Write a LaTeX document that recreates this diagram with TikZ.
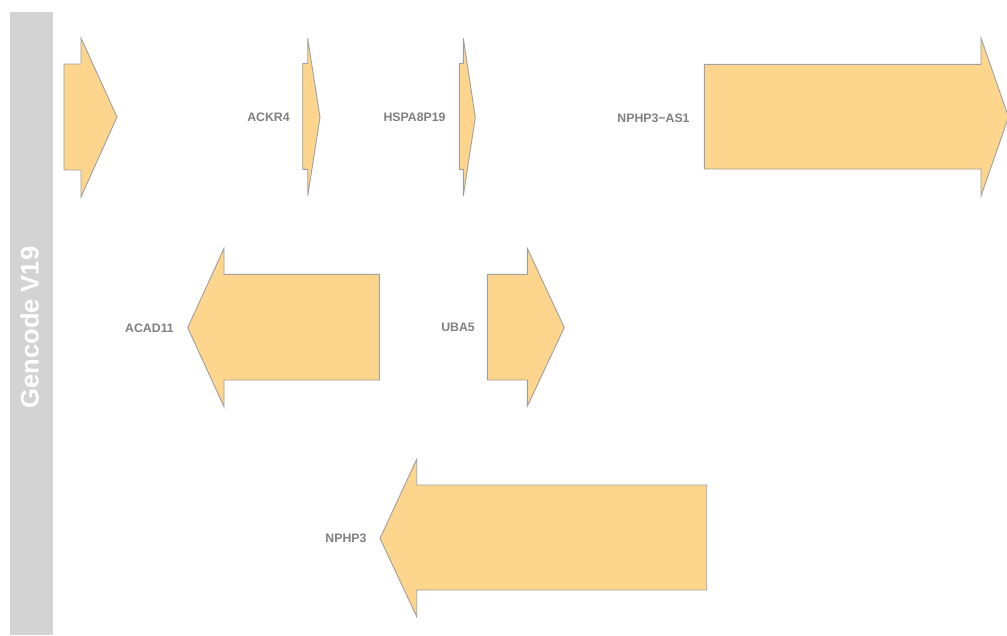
\documentclass[tikz,border=0pt]{standalone}
\usepackage{fontspec}
\setmainfont{Liberation Sans}
\definecolor{genefill}{HTML}{FDD58C}
\definecolor{geneline}{HTML}{A0A0A0}
\definecolor{labelgray}{HTML}{808080}
\definecolor{bandgray}{HTML}{D3D3D3}
\begin{document}
\begin{tikzpicture}[x=1pt,y=-1pt,
  gene/.style={fill=genefill,draw=geneline,line width=0.9pt,line join=miter},
  genelabel/.style={text=labelgray,font=\fontsize{12.3}{14}\selectfont\bfseries,inner sep=0pt},
  bandlabel/.style={text=white,font=\fontsize{25.5}{30}\selectfont\bfseries,inner sep=0pt,rotate=90}]
\useasboundingbox (0,0) rectangle (1007,635);
\fill[bandgray] (10,12) rectangle (53,635);
\node[bandlabel] (band) at (29.5,327.5) {Gencode V19};
% forward genes
\draw[gene] (64,64) -- (81,64) -- (81,38) -- (117,117) -- (81,197) -- (81,170) -- (64,170) -- cycle;
\draw[gene] (302.7,63.5) -- (307.7,63.5) -- (307.7,38.3) -- (320,117.3) -- (307.7,196) -- (307.7,169.3) -- (302.7,169.3) -- cycle;
\node[genelabel] (ackr) at (268.5,117.5) {ACKR4};
\draw[gene] (459.3,63.5) -- (463.3,63.5) -- (463.3,38.3) -- (475.3,117.3) -- (463.3,196) -- (463.3,169.3) -- (459.3,169.3) -- cycle;
\node[genelabel] (hspa) at (414.5,117.5) {HSPA8P19};
\begin{scope}
\clip (0,0) rectangle (1007,635);
\draw[gene] (704.3,64.3) -- (981,64.3) -- (981,38) -- (1008.5,117) -- (981,196) -- (981,169) -- (704.3,169) -- cycle;
\end{scope}
\node[genelabel] (nphpas) at (653.5,118) {NPHP3−AS1};
\draw[gene] (487.3,274.3) -- (527.3,274.3) -- (527.3,248.3) -- (564.3,327.5) -- (527.3,406.3) -- (527.3,380) -- (487.3,380) -- cycle;
\node[genelabel] (uba) at (458,327.5) {UBA5};
% reverse genes
\draw[gene] (379.3,274.3) -- (224,274.3) -- (224,248.3) -- (187.7,327.7) -- (224,406.7) -- (224,380) -- (379.3,380) -- cycle;
\node[genelabel] (acad) at (149.5,328) {ACAD11};
\draw[gene] (706.7,485) -- (416.7,485) -- (416.7,459.3) -- (380,538.3) -- (416.7,616.7) -- (416.7,590) -- (706.7,590) -- cycle;
\node[genelabel] (nphp) at (346,538.5) {NPHP3};
\end{tikzpicture}
\end{document}
